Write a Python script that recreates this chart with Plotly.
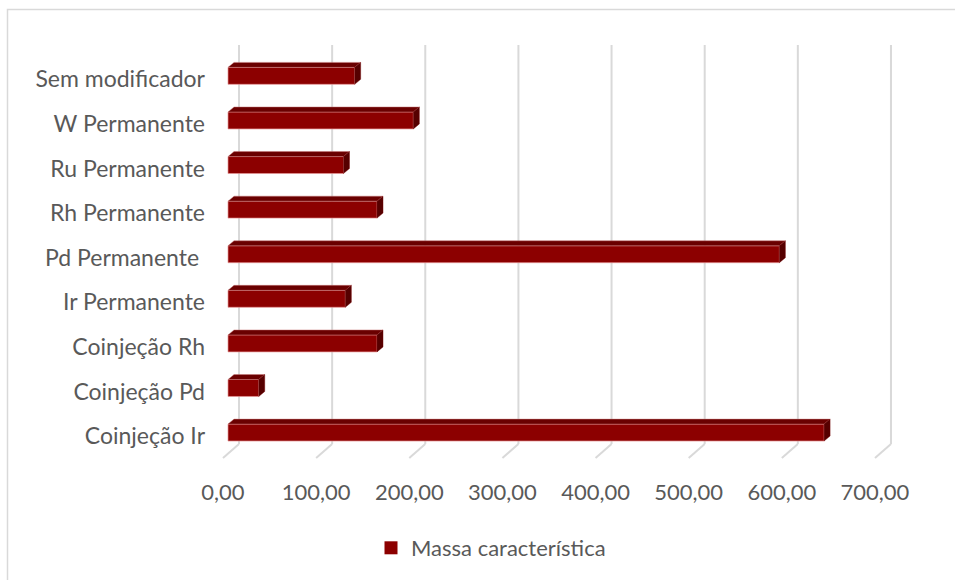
import plotly.graph_objects as go

# Data
categories = ["Coinjeção Ir", "Coinjeção Pd", "Coinjeção Rh", "Ir Permanente",
              "Pd Permanente\u00a0", "Rh Permanente", "Ru Permanente",
              "W Permanente", "Sem modificador"]
values = [640, 33, 160, 126, 592, 160, 124, 199, 136]
series_name = "Massa característica"
tick_values = [0, 100, 200, 300, 400, 500, 600, 700]
tick_labels = ["0,00", "100,00", "200,00", "300,00", "400,00", "500,00", "600,00", "700,00"]

W, H = 955, 580
ML, MR, MT, MB = 210, 25, 20, 110
plot_w = W - ML - MR
plot_h = H - MT - MB

# pixel scale of the value axis and category axis
px_per_unit = 0.9314
px_per_cat = 44.69
x0_px = 223.0            # where value 0 sits on the front floor edge
cat0_px = 433.5          # vertical centre of the first bar's front face

xmin = (ML - x0_px) / px_per_unit
xmax = (ML + plot_w - x0_px) / px_per_unit
ymax = (cat0_px - MT) / px_per_cat
ymin = (cat0_px - (MT + plot_h)) / px_per_cat


def ux(px):
    return px / px_per_unit


def uy(px):
    return px / px_per_cat


bar_base = ux(5)          # front face starts slightly behind the floor edge
bar_h = uy(17)            # front face height
dx, dy = ux(6), uy(5)     # bar depth
wall_dx, wall_dy = ux(16), uy(14)   # floor depth
floor_front_y = (cat0_px - 459) / px_per_cat
wall_top_y = (cat0_px - 45) / px_per_cat

pos = list(range(len(categories)))

FRONT = "#8C0000"
TOP = "#6A0000"
SIDE = "#560000"

fig = go.Figure()

# front faces
fig.add_trace(go.Bar(
    y=pos, x=values, base=bar_base, orientation="h", width=bar_h,
    marker=dict(color=FRONT, line=dict(color="rgba(230,150,150,0.7)", width=1)),
    name=series_name, showlegend=False, hoverinfo="skip", legendgroup="m",
))

# top and side faces
top_x, top_y, side_x, side_y = [], [], [], []
for p, v in zip(pos, values):
    yt = p + bar_h / 2
    yb = p - bar_h / 2
    x_l = bar_base
    x_r = bar_base + v
    top_x += [x_l, x_r, x_r + dx, x_l + dx, x_l, None]
    top_y += [yt, yt, yt + dy, yt + dy, yt, None]
    side_x += [x_r, x_r + dx, x_r + dx, x_r, x_r, None]
    side_y += [yb, yb + dy, yt + dy, yt, yb, None]

fig.add_trace(go.Scatter(x=top_x, y=top_y, mode="lines", fill="toself",
                         fillcolor=TOP, line=dict(color="rgba(200,120,120,0.6)", width=0.8),
                         showlegend=False, hoverinfo="skip"))
fig.add_trace(go.Scatter(x=side_x, y=side_y, mode="lines", fill="toself",
                         fillcolor=SIDE, line=dict(color="rgba(120,0,0,0.8)", width=0.5),
                         showlegend=False, hoverinfo="skip"))

# legend entry with a square swatch
fig.add_trace(go.Scatter(x=[None], y=[None], mode="markers", name=series_name,
                         marker=dict(symbol="square", size=13, color=FRONT),
                         legendgroup="m", showlegend=True, hoverinfo="skip"))

# back-wall gridlines with their floor returns
shapes = []
GRID = "#D9D9D9"
for t in tick_values:
    shapes.append(dict(type="line", xref="x", yref="y", layer="below",
                       x0=t + wall_dx, x1=t + wall_dx,
                       y0=floor_front_y + wall_dy, y1=wall_top_y,
                       line=dict(color=GRID, width=2)))
    shapes.append(dict(type="line", xref="x", yref="y", layer="below",
                       x0=t + wall_dx, x1=t,
                       y0=floor_front_y + wall_dy, y1=floor_front_y,
                       line=dict(color=GRID, width=2)))


def paper_x(px):
    return (px - ML) / plot_w


def paper_y(py):
    return 1 - (py - MT) / plot_h


# chart frame
shapes.append(dict(type="rect", xref="paper", yref="paper", layer="below",
                   x0=paper_x(7.5), x1=paper_x(W + 5), y0=paper_y(H + 5), y1=paper_y(9.5),
                   line=dict(color="#D9D9D9", width=1.5), fillcolor="rgba(0,0,0,0)"))

FONT = "Lato"
fig.update_layout(
    width=W, height=H,
    margin=dict(l=ML, r=MR, t=MT, b=MB),
    paper_bgcolor="white", plot_bgcolor="white",
    font=dict(family=FONT, size=22, color="#595959"),
    shapes=shapes,
    barmode="overlay",
    xaxis=dict(range=[xmin, xmax], tickvals=tick_values, ticktext=tick_labels,
               showgrid=False, zeroline=False, showline=False,
               tickfont=dict(size=22, color="#595959"), ticklabelstandoff=8,
               fixedrange=True),
    yaxis=dict(range=[ymin, ymax], tickvals=[p - 0.08 for p in pos], ticktext=categories,
               showgrid=False, zeroline=False, showline=False,
               tickfont=dict(size=23, color="#595959"), ticklabelstandoff=4,
               fixedrange=True),
    legend=dict(orientation="h", x=paper_x(491), xanchor="center",
                y=paper_y(548), yanchor="middle", font=dict(size=22, color="#595959"),
                itemwidth=30),
)

fig.write_html("out.html")
